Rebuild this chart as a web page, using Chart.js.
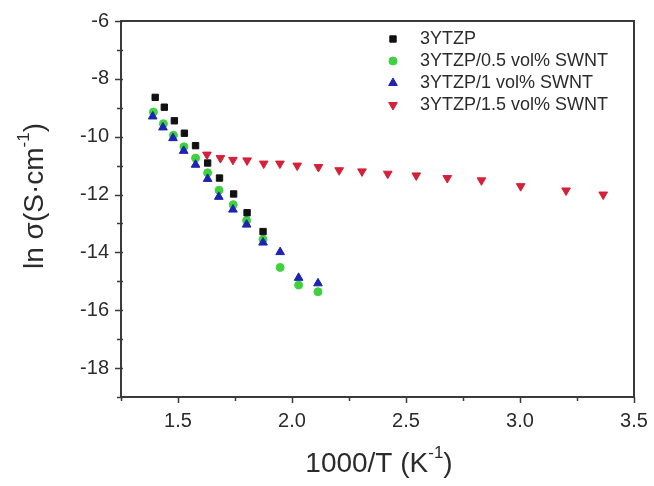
<!DOCTYPE html>
<html>
<head>
<meta charset="utf-8">
<script src="https://cdn.jsdelivr.net/npm/chart.js@4.4.1/dist/chart.umd.min.js"></script>
<style>
  html, body { margin: 0; padding: 0; background: #fff; }
</style>
</head>
<body>
<canvas id="grafico" width="654" height="486"></canvas>
<script>
// Valores: x = 1000/T (K^-1), y = ln sigma (S/cm)
const seriesNames = ["3YTZP", "3YTZP/0.5 vol% SWNT", "3YTZP/1 vol% SWNT", "3YTZP/1.5 vol% SWNT"];

const xPuro = [1.400, 1.440, 1.484, 1.528, 1.577, 1.630, 1.682, 1.744, 1.803, 1.873];
const yPuro = [-8.64, -8.98, -9.45, -9.88, -10.31, -10.91, -11.43, -11.98, -12.63, -13.28];

const xSwnt05 = [1.392, 1.436, 1.480, 1.526, 1.577, 1.630, 1.680, 1.742, 1.801, 1.873, 1.948, 2.029, 2.114];
const ySwnt05 = [-9.15, -9.55, -9.95, -10.35, -10.74, -11.25, -11.85, -12.35, -12.90, -13.55, -14.52, -15.13, -15.36];

const xSwnt1 = [1.389, 1.434, 1.478, 1.525, 1.577, 1.630, 1.679, 1.741, 1.801, 1.873, 1.948, 2.029, 2.114];
const ySwnt1 = [-9.30, -9.68, -10.05, -10.49, -10.97, -11.46, -12.08, -12.52, -13.04, -13.66, -13.99, -14.88, -15.07];

const xSwnt15 = [1.627, 1.686, 1.741, 1.803, 1.876, 1.947, 2.023, 2.116, 2.207, 2.307, 2.420, 2.545, 2.681, 2.831, 3.003, 3.202, 3.365];
const ySwnt15 = [-10.62, -10.74, -10.80, -10.82, -10.93, -10.93, -11.00, -11.05, -11.16, -11.20, -11.28, -11.34, -11.43, -11.51, -11.71, -11.86, -12.00];

const xTicks = [1.5, 2.0, 2.5, 3.0, 3.5];
const yTicks = [-6, -8, -10, -12, -14, -16, -18];

const fonte = "'Liberation Sans', Arial, sans-serif";
const corTexto = "#2b2b2b";

function pontos(xs, ys) {
  return xs.map((x, i) => ({ x: x, y: ys[i] }));
}

// Moldura, marcas dos eixos, títulos e legenda desenhados à mão
const extras = {
  id: "extras",
  afterDraw(chart) {
    const c = chart.ctx;
    const area = chart.chartArea;
    const sx = chart.scales.x;
    const sy = chart.scales.y;

    c.save();
    c.strokeStyle = "#3a3a3a";
    c.lineWidth = 2;
    c.strokeRect(area.left, area.top, area.right - area.left, area.bottom - area.top);

    // marcas do eixo x
    c.lineWidth = 1.5;
    c.beginPath();
    for (let v = 1.25; v <= 3.5001; v += 0.25) {
      const px = Math.round(sx.getPixelForValue(v)) + 0.5;
      const len = xTicks.some(t => Math.abs(t - v) < 1e-6) ? 6 : 4;
      c.moveTo(px, area.bottom);
      c.lineTo(px, area.bottom + len);
    }
    // marcas do eixo y
    for (let v = -19; v <= -6; v += 1) {
      const py = Math.round(sy.getPixelForValue(v)) + 0.5;
      const len = yTicks.includes(v) ? 6 : 4;
      c.moveTo(area.left - len, py);
      c.lineTo(area.left + 2, py);
    }
    c.stroke();

    // títulos com expoente
    function textoSup(base, sup, fim, cx, cy, size) {
      const sz = Math.round(size * 0.6);
      c.font = size + "px " + fonte;
      const w1 = c.measureText(base).width;
      const w3 = c.measureText(fim).width;
      c.font = sz + "px " + fonte;
      const w2 = c.measureText(sup).width;
      const x0 = cx - (w1 + w2 + w3) / 2;
      c.textBaseline = "middle";
      c.textAlign = "left";
      c.font = size + "px " + fonte;
      c.fillText(base, x0, cy);
      c.fillText(fim, x0 + w1 + w2, cy);
      c.font = sz + "px " + fonte;
      c.fillText(sup, x0 + w1, cy - size * 0.38);
    }
    c.fillStyle = corTexto;
    textoSup("1000/T (K", "-1", ")", 379, 464, 28);
    c.save();
    c.translate(35, 196);
    c.rotate(-Math.PI / 2);
    textoSup("ln \u03c3(S\u00b7cm", "-1", ")", 0, 0, 28);
    c.restore();

    // legenda
    const lx = 393, tx = 420;
    const ly = [39, 61, 83, 105];
    c.font = "18px " + fonte;
    c.textAlign = "left";
    c.textBaseline = "middle";
    chart.data.datasets.forEach((ds, i) => {
      c.fillStyle = ds.backgroundColor;
      c.strokeStyle = ds.borderColor;
      c.lineWidth = 1;
      Chart.helpers.drawPoint(c, {
        pointStyle: ds.pointStyle,
        rotation: ds.rotation || 0,
        radius: ds.pointRadius,
        borderWidth: 1
      }, lx, ly[i]);
      c.fillStyle = corTexto;
      c.fillText(ds.label, tx, ly[i]);
    });
    c.restore();
  }
};

const ctx = document.getElementById("grafico").getContext("2d");
new Chart(ctx, {
  type: "scatter",
  data: {
    datasets: [
      { label: seriesNames[0], data: pontos(xPuro, yPuro), pointStyle: "rect", pointRadius: 4.5,
        backgroundColor: "#111111", borderColor: "#111111", borderWidth: 1, order: 3 },
      { label: seriesNames[1], data: pontos(xSwnt05, ySwnt05), pointStyle: "circle", pointRadius: 4,
        backgroundColor: "#3fd23f", borderColor: "#3fd23f", borderWidth: 1, order: 4 },
      { label: seriesNames[2], data: pontos(xSwnt1, ySwnt1), pointStyle: "triangle", pointRadius: 5,
        backgroundColor: "#1c24b0", borderColor: "#1c24b0", borderWidth: 1, order: 2 },
      { label: seriesNames[3], data: pontos(xSwnt15, ySwnt15), pointStyle: "triangle", rotation: 180, pointRadius: 5,
        backgroundColor: "#d42038", borderColor: "#d42038", borderWidth: 1, order: 1 }
    ]
  },
  options: {
    responsive: false,
    animation: false,
    devicePixelRatio: 1,
    layout: { padding: { top: 21, right: 20, left: 0, bottom: 0 } },
    plugins: {
      legend: { display: false },
      tooltip: { enabled: false }
    },
    scales: {
      x: {
        type: "linear",
        min: 1.25,
        max: 3.5,
        grid: { display: false, drawTicks: false },
        border: { display: false },
        ticks: {
          stepSize: 0.25,
          autoSkip: false,
          maxRotation: 0,
          padding: 12,
          color: corTexto,
          font: { family: fonte, size: 20 },
          callback: v => xTicks.some(t => Math.abs(t - v) < 1e-6) ? v.toFixed(1) : ""
        },
        afterFit: s => { s.height = 89; s.paddingLeft = 0; s.paddingRight = 0; }
      },
      y: {
        type: "linear",
        min: -19,
        max: -6,
        grid: { display: false, drawTicks: false },
        border: { display: false },
        ticks: {
          stepSize: 1,
          autoSkip: false,
          padding: 12,
          color: corTexto,
          font: { family: fonte, size: 20 },
          callback: v => yTicks.includes(v) ? String(v) : ""
        },
        afterFit: s => { s.width = 121; s.paddingTop = 0; s.paddingBottom = 0; }
      }
    }
  },
  plugins: [extras]
});
</script>
</body>
</html>
